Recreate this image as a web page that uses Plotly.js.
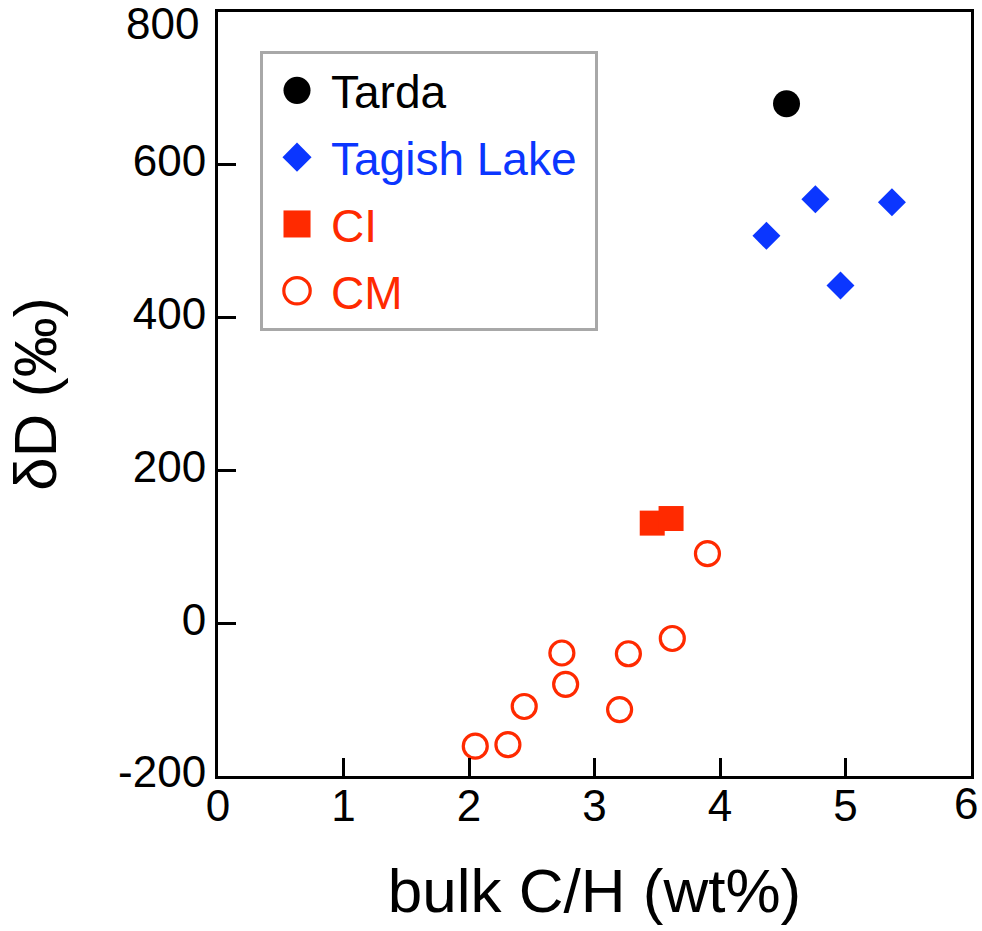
<!DOCTYPE html>
<html>
<head>
<meta charset="utf-8">
<script src="https://cdn.plot.ly/plotly-3.0.1.min.js"></script>
<style>html,body{margin:0;padding:0;background:#fff;}</style>
</head>
<body>
<div id="chart" style="width:982px;height:931px;"></div>
<script>
// Data
const tardaX = [4.53];
const tardaY = [680];
const tagishX = [4.76, 5.37, 4.37, 4.96];
const tagishY = [555, 551, 507, 442];
const ciX = [3.46, 3.61];
const ciY = [131, 137];
const cmX = [3.90, 3.62, 3.27, 2.74, 2.77, 3.20, 2.44, 2.31, 2.05];
const cmY = [91, -20, -40, -39, -80, -113, -109, -159, -161];
const xTicks = [0, 1, 2, 3, 4, 5, 6];
const yTicks = [-200, 0, 200, 400, 600, 800];

const BLUE = '#0b36ff';
const RED = '#ff2a00';
const FONT = 'Liberation Sans, Arial, sans-serif';
const TICKSIZE = 44;

const traces = [
  {x: tardaX, y: tardaY, type: 'scatter', mode: 'markers', name: 'Tarda', legendgroup: 'a',
   marker: {symbol: 'circle', size: 27, color: '#000000', line: {width: 0}}},
  {x: tagishX, y: tagishY, type: 'scatter', mode: 'markers',
   name: '<span style="color:' + BLUE + '">Tagish Lake&nbsp;</span>', legendgroup: 'b',
   marker: {symbol: 'diamond', size: 21.5, color: BLUE, line: {width: 0}}},
  {x: ciX, y: ciY, type: 'scatter', mode: 'markers',
   name: '<span style="color:' + RED + '">CI</span>', legendgroup: 'c',
   marker: {symbol: 'square', size: 25, color: RED, line: {width: 0}}},
  {x: cmX, y: cmY, type: 'scatter', mode: 'markers',
   name: '<span style="color:' + RED + '">CM</span>', legendgroup: 'd',
   marker: {symbol: 'circle-open', size: 24, color: RED, line: {width: 3.2, color: RED}}}
];

// edge tick labels are nudged inward in the reference, so they are drawn as annotations
const yTop = yTicks[yTicks.length - 1];
const xRight = xTicks[xTicks.length - 1];

const layout = {
  width: 982, height: 931,
  margin: {l: 218, r: 11, t: 12, b: 155},
  paper_bgcolor: '#ffffff', plot_bgcolor: '#ffffff',
  font: {family: FONT, color: '#000000'},
  showlegend: true,
  legend: {
    x: 0.0558, y: 0.949, xanchor: 'left', yanchor: 'top',
    bgcolor: '#ffffff', bordercolor: '#a8a8a8', borderwidth: 3,
    font: {family: FONT, size: 46, color: '#000000'},
    tracegroupgap: 4, itemwidth: 58
  },
  xaxis: {
    range: [0, 6], tickvals: xTicks,
    ticktext: xTicks.map(v => v === xRight ? '' : String(v)),
    ticks: 'inside', ticklen: 18, tickwidth: 3, tickcolor: '#000',
    showline: true, linewidth: 3, linecolor: '#000', mirror: true,
    showgrid: false, zeroline: false, ticklabelstandoff: -11,
    tickfont: {family: FONT, size: TICKSIZE, color: '#000'},
    title: {text: 'bulk C/H (wt%)', font: {family: FONT, size: 62, color: '#000'}, standoff: 40}
  },
  yaxis: {
    range: [-200, 800], tickvals: yTicks,
    ticktext: yTicks.map(v => v === yTop ? '' : String(v)),
    ticks: 'inside', ticklen: 18, tickwidth: 3, tickcolor: '#000',
    showline: true, linewidth: 3, linecolor: '#000', mirror: true,
    showgrid: false, zeroline: false, ticklabelstandoff: 0, ticklabelshift: -4,
    tickfont: {family: FONT, size: TICKSIZE, color: '#000'},
    title: {text: 'δD (‰)', font: {family: FONT, size: 60, color: '#000'}, standoff: 43}
  },
  annotations: [
    {xref: 'paper', x: 0, xanchor: 'right', xshift: -17, yref: 'y', y: yTop, yanchor: 'middle', yshift: -11,
     text: String(yTop), showarrow: false, font: {family: FONT, size: TICKSIZE, color: '#000'}},
    {xref: 'x', x: xRight, xanchor: 'center', xshift: -5, yref: 'paper', y: 0, yanchor: 'top', yshift: -1,
     text: String(xRight), showarrow: false, font: {family: FONT, size: TICKSIZE, color: '#000'}}
  ]
};

Plotly.newPlot('chart', traces, layout, {staticPlot: true, displayModeBar: false}).then(gd => {
  // enlarge legend symbols to match the reference's larger legend markers
  const scales = [1.69, 1.4, 1.69, 1.65];
  gd.querySelectorAll('.legend .traces').forEach((tr, i) => {
    tr.querySelectorAll('.legendpoints path').forEach(p => {
      const t = p.getAttribute('transform') || '';
      p.setAttribute('transform', t + ' scale(' + scales[i] + ')');
      p.style.vectorEffect = 'non-scaling-stroke';
    });
  });
});
</script>
</body>
</html>
